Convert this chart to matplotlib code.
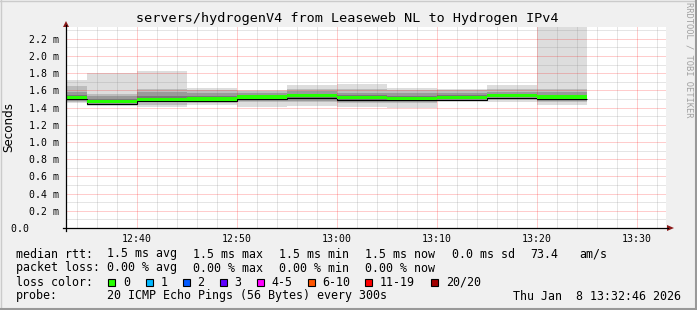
import matplotlib
matplotlib.use("Agg")
import matplotlib.pyplot as plt
from matplotlib.patches import Rectangle, Polygon
from matplotlib.lines import Line2D
from matplotlib.ticker import MultipleLocator

W, H = 697, 310
MONO = "DejaVu Sans Mono"

# rrd steps of 5 minutes, in minutes after 12:00
edges = [30, 35, 40, 45, 50, 55, 60, 65, 70, 75, 80, 85]
# ping distribution per step, ms
p_max = [1.723, 1.800, 1.828, 1.627, 1.607, 1.662, 1.670, 1.623, 1.615, 1.662, 2.400]
p_90 = [1.655, 1.556, 1.610, 1.600, 1.590, 1.620, 1.620, 1.600, 1.600, 1.610, 1.610]
p_75 = [1.580, 1.530, 1.575, 1.570, 1.565, 1.590, 1.570, 1.570, 1.570, 1.580, 1.580]
p_60 = [1.545, 1.500, 1.530, 1.530, 1.540, 1.560, 1.540, 1.530, 1.540, 1.555, 1.550]
median = [1.519, 1.468, 1.496, 1.499, 1.522, 1.537, 1.514, 1.507, 1.514, 1.537, 1.522]
p_40 = [1.490, 1.455, 1.480, 1.480, 1.500, 1.510, 1.490, 1.490, 1.500, 1.520, 1.500]
p_25 = [1.475, 1.440, 1.460, 1.465, 1.480, 1.480, 1.470, 1.470, 1.490, 1.500, 1.480]
p_10 = [1.460, 1.430, 1.430, 1.450, 1.460, 1.460, 1.450, 1.450, 1.480, 1.485, 1.460]
p_min = [1.449, 1.421, 1.410, 1.430, 1.410, 1.420, 1.410, 1.400, 1.468, 1.470, 1.430]

xticks = [40, 50, 60, 70, 80, 90]
xtick_labels = ["12:40", "12:50", "13:00", "13:10", "13:20", "13:30"]
yticks = [0.0, 0.2, 0.4, 0.6, 0.8, 1.0, 1.2, 1.4, 1.6, 1.8, 2.0, 2.2]
ytick_labels = ["0.0     "] + ["%.1f m" % v for v in yticks[1:]]

loss_labels = ["0", "1", "2", "3", "4-5", "6-10", "11-19", "20/20"]
loss_colors = ["#26ff00", "#00b8ff", "#0059ff", "#5e00ff", "#ff00ff", "#ff5500", "#ff0000", "#a10000"]

title = "servers/hydrogenV4 from Leaseweb NL to Hydrogen IPv4"
rtt_stats = ["1.5 ms avg", "1.5 ms max", "1.5 ms min", "1.5 ms now", "0.0 ms sd"]
loss_stats = ["0.00 % avg", "0.00 % max", "0.00 % min", "0.00 % now"]
probe = "20 ICMP Echo Pings (56 Bytes) every 300s"
stamp = "Thu Jan  8 13:32:46 2026"


def fx(x):
    return x / W


def fy(y):
    return 1 - y / H


fig = plt.figure(figsize=(W / 100, H / 100), dpi=100, facecolor="#f0f0f0")
ax = fig.add_axes([fx(66), fy(228), 600 / W, 201 / H])
ax.set_facecolor("white")
ax.set_xlim(32.9, 92.9)
ax.set_ylim(0, 2.336)

# smoke, outer band lightest
bands = [(p_min, p_max, "#dddddd"), (p_10, p_90, "#bcbcbc"),
         (p_25, p_75, "#9a9a9a"), (p_40, p_60, "#787878")]
for lo, hi, col in bands:
    ax.stairs(hi, edges, baseline=lo, fill=True, color=col, lw=0, zorder=1)

med_lo = [m - 0.018 for m in median]
med_hi = [m + 0.020 for m in median]
ax.stairs([m - 0.022 for m in median], edges, baseline=None, color="black", lw=0.8, zorder=3)
ax.stairs(med_hi, edges, baseline=med_lo, fill=True, color=loss_colors[0], lw=0, zorder=4)

ax.xaxis.set_minor_locator(MultipleLocator(2))
ax.yaxis.set_minor_locator(MultipleLocator(0.1))
ax.set_xticks(xticks, labels=xtick_labels)
ax.set_yticks(yticks, labels=ytick_labels)
ax.grid(which="major", color="#ff0000", alpha=0.4, lw=0.72, ls=(0, (1, 1)))
ax.grid(which="minor", color="#808080", alpha=0.4, lw=0.72, ls=(0, (1, 1)))
ax.set_axisbelow(False)
ax.tick_params(which="both", length=0)
ax.tick_params(axis="x", pad=4, labelsize=7.1)
ax.tick_params(axis="y", pad=5, labelsize=7.1)
for lab in ax.get_xticklabels() + ax.get_yticklabels():
    lab.set_family(MONO)
for s in ax.spines.values():
    s.set_visible(False)

# axes with arrows
fig.add_artist(Line2D([fx(63), fx(668)], [fy(228), fy(228)], color="black", lw=0.9))
fig.add_artist(Line2D([fx(66), fx(66)], [fy(231), fy(25)], color="black", lw=0.9))
fig.add_artist(Polygon([(fx(667), fy(225)), (fx(674), fy(228)), (fx(667), fy(231))],
                       closed=True, color="#8b1a1a", lw=0))
fig.add_artist(Polygon([(fx(63), fy(27)), (fx(66), fy(21)), (fx(69), fy(27))],
                       closed=True, color="#8b1a1a", lw=0))

# frame shading
fig.add_artist(Line2D([0, 1], [fy(0.5), fy(0.5)], color="#cbcbcb", lw=1))
fig.add_artist(Line2D([fx(0.5), fx(0.5)], [0, 1], color="#cbcbcb", lw=1))
fig.add_artist(Line2D([0, 1], [fy(309), fy(309)], color="#999999", lw=1.5))
fig.add_artist(Line2D([fx(696), fx(696)], [0, 1], color="#999999", lw=1.5))

fig.text(fx(347), fy(18.5), title, family=MONO, fontsize=9.7, ha="center", va="center")
fig.text(fx(9), fy(127), "Seconds", family="DejaVu Sans", fontsize=8.6,
         rotation=90, ha="center", va="center")
fig.text(fx(689), fy(60), "RRDTOOL / TOBI OETIKER", family=MONO, fontsize=6.3,
         rotation=-90, ha="center", va="center", color="#a0a0a0")

fs = 8.4
rows = [254, 268, 282, 296]
col_x = [107, 193, 279, 365, 452]
fig.text(fx(16), fy(rows[0]), "median rtt:", family=MONO, fontsize=fs, va="center")
for x, s in zip(col_x, rtt_stats):
    fig.text(fx(x), fy(rows[0]), s, family=MONO, fontsize=fs, va="center")
fig.text(fx(530), fy(rows[0]), "73.4", family=MONO, fontsize=fs, va="center")
fig.text(fx(579), fy(rows[0]), "am/s", family=MONO, fontsize=fs, va="center")

fig.text(fx(16), fy(rows[1]), "packet loss:", family=MONO, fontsize=fs, va="center")
for x, s in zip(col_x, loss_stats):
    fig.text(fx(x), fy(rows[1]), s, family=MONO, fontsize=fs, va="center")

fig.text(fx(16), fy(rows[2]), "loss color:", family=MONO, fontsize=fs, va="center")
box_x = [108, 145.5, 182.5, 219.5, 256.5, 307.5, 365, 431]
for x, lab, col in zip(box_x, loss_labels, loss_colors):
    fig.add_artist(Rectangle((fx(x), fy(285.5)), 7 / W, 7 / H, facecolor=col,
                             edgecolor="black", lw=0.8))
    fig.text(fx(x + 15), fy(rows[2]), lab, family=MONO, fontsize=fs, va="center")

fig.text(fx(16), fy(rows[3]), "probe:", family=MONO, fontsize=fs, va="center")
fig.text(fx(107), fy(rows[3]), probe, family=MONO, fontsize=fs, va="center")
fig.text(fx(681), fy(rows[3]), stamp, family=MONO, fontsize=fs, va="center", ha="right")

fig.savefig("out.png", dpi=100, facecolor=fig.get_facecolor())
